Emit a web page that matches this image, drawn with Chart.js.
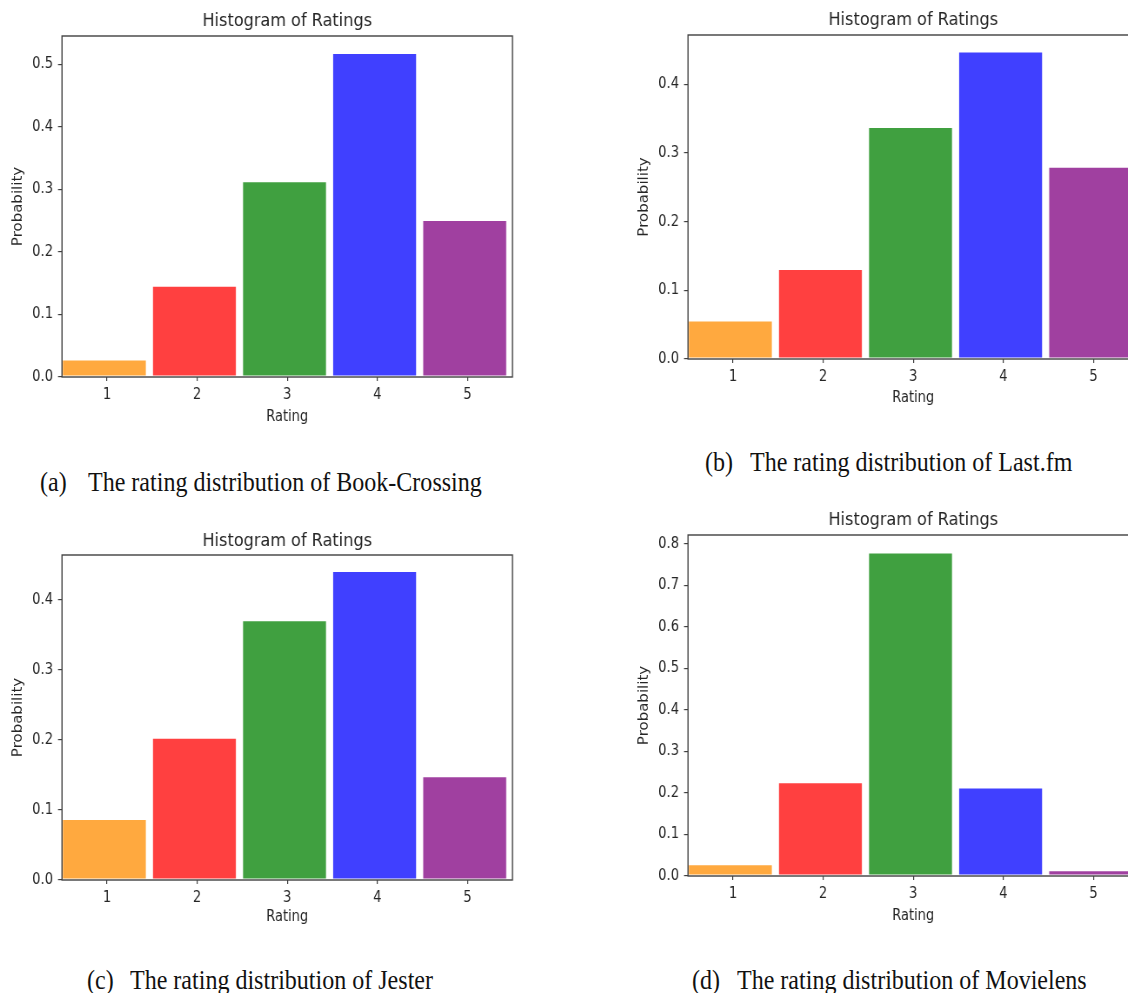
<!DOCTYPE html>
<html>
<head>
<meta charset="utf-8">
<script src="https://cdn.jsdelivr.net/npm/chart.js@4/dist/chart.umd.min.js"></script>
<style>
  html, body { margin: 0; padding: 0; background: #fff; }
  body { width: 1128px; height: 993px; overflow: hidden; position: relative; }
  canvas { position: absolute; transform-origin: 0 0; }
  .cap { position: absolute; font-family: "Liberation Serif", "Times New Roman", serif;
         font-size: 27px; line-height: 28px; color: #111; white-space: pre; transform-origin: 0 50%; }
</style>
</head>
<body>
<script>
// Rating scale shared by all four histograms
const ratings = [1, 2, 3, 4, 5];
const ratingLabels = ['1', '2', '3', '4', '5'];

// Share of ratings at each level, per dataset
const bookCrossing = [0.028, 0.146, 0.313, 0.518, 0.251];
const lastFm       = [0.056, 0.131, 0.338, 0.448, 0.280];
const jester       = [0.087, 0.203, 0.371, 0.441, 0.148];
const movielens    = [0.028, 0.226, 0.779, 0.213, 0.014];

// Upper limit of each probability axis
const yLimits = [0.545, 0.472, 0.464, 0.821];

const chartTitle = 'Histogram of Ratings';
const xAxisTitle = 'Rating';
const yAxisTitle = 'Probability';

const captionTags  = ['(a)', '(b)', '(c)', '(d)'];
const captionTexts = [
  'The rating distribution of Book-Crossing',
  'The rating distribution of Last.fm',
  'The rating distribution of Jester',
  'The rating distribution of Movielens'
];

// One colour per rating bar (75% opaque over white)
const barColors = ['#ffa93f', '#ff4040', '#40a040', '#4040ff', '#a040a0'];

// ---- layout of the 2x2 grid (plot-area edges in page pixels) ----
const panels = [
  { values: bookCrossing, left: 62,  right: 512,  top: 36,  bottom: 377, titleY: 21.5,  xTitleY: 417.5, yTitleX: 18 },
  { values: lastFm,       left: 688, right: 1138, top: 35,  bottom: 359, titleY: 20.5,  xTitleY: 398,   yTitleX: 644 },
  { values: jester,       left: 62,  right: 512,  top: 555, bottom: 880, titleY: 541,   xTitleY: 917,   yTitleX: 18 },
  { values: movielens,    left: 688, right: 1138, top: 535, bottom: 876, titleY: 520.5, xTitleY: 916,   yTitleX: 644 }
];
const captionPos = [
  { tagX: 40,  textX: 88,  y: 482 },
  { tagX: 705, textX: 750, y: 462 },
  { tagX: 87,  textX: 130, y: 980 },
  { tagX: 692, textX: 737, y: 980 }
];

const SX = 0.87;         // the figure is drawn slightly narrower than tall
const CAP_SX = 0.89;     // caption glyph narrowing
const Y_AXIS_W = 62;     // page px left of the plot area
const TITLE_H = 36;      // page px above the plot area
const X_AXIS_H = 60;     // page px below the plot area
const RIGHT_PAD = 12;
const BAR_SHIFT = 0.03;  // bars sit at the left edge of each unit bin
const LINE = '#404040';
const TEXT = '#262626';

Chart.defaults.font.family = '"DejaVu Sans", sans-serif';
Chart.defaults.color = TEXT;
Chart.defaults.animation = false;

// frame around the plot area (all four spines)
const framePlugin = {
  id: 'frame',
  afterDatasetsDraw(chart) {
    const { ctx, chartArea: a } = chart;
    ctx.save();
    ctx.strokeStyle = LINE;
    ctx.lineWidth = 1.4;
    ctx.strokeRect(a.left, a.top, a.right - a.left, a.bottom - a.top);
    ctx.restore();
  }
};

const ratingTicks = s => { s.ticks = ratings.map(v => ({ value: v })); };

function drawPanel(p, yMax) {
  const cx = p.left - Y_AXIS_W;
  const cy = p.top - TITLE_H;
  const yAxisW = Y_AXIS_W / SX;
  const W = Math.round(yAxisW + (p.right - p.left) / SX + RIGHT_PAD);
  const H = TITLE_H + (p.bottom - p.top) + X_AXIS_H;

  const canvas = document.createElement('canvas');
  canvas.width = W; canvas.height = H;
  canvas.style.left = cx + 'px'; canvas.style.top = cy + 'px';
  canvas.style.transform = `scaleX(${SX})`;
  document.body.appendChild(canvas);

  const titleFont = 18.5, axisFont = 15;
  const tPadTop = p.titleY - cy - titleFont * 1.2 / 2;
  const tPadBottom = TITLE_H - titleFont * 1.2 - tPadTop;
  const xTitlePadBottom = (cy + H) - p.xTitleY - axisFont * 1.2 / 2;
  const yTitlePadTop = (p.yTitleX - cx) / SX - axisFont * 1.2 / 2;

  const xGrid = { display: true, offset: false, drawOnChartArea: false, drawTicks: true, tickLength: 4, color: LINE, lineWidth: 1.2 };
  const yGrid = { display: true, offset: false, drawOnChartArea: false, drawTicks: true, tickLength: 4 / SX, color: LINE, lineWidth: 1.2 };

  new Chart(canvas, {
    type: 'bar',
    data: {
      datasets: [{
        data: ratings.map((r, i) => ({ x: r, y: p.values[i] })),
        backgroundColor: barColors,
        borderColor: 'rgba(255,255,255,0.45)',
        borderWidth: 1,
        borderSkipped: false,
        xAxisID: 'xb',
        yAxisID: 'y',
        categoryPercentage: 1.0,
        barPercentage: 0.94
      }]
    },
    options: {
      responsive: false,
      devicePixelRatio: 1,
      layout: { padding: { left: 0, right: RIGHT_PAD, top: 0, bottom: 0 } },
      plugins: {
        legend: { display: false },
        tooltip: { enabled: false },
        title: {
          display: true, text: chartTitle, fullSize: false, color: TEXT,
          font: { size: titleFont, weight: 'normal' },
          padding: { top: tPadTop, bottom: tPadBottom }
        }
      },
      scales: {
        x: {
          type: 'linear', position: 'bottom', min: 0.5, max: 5.5, offset: false,
          afterBuildTicks: ratingTicks,
          afterFit: s => { s.height = X_AXIS_H; },
          ticks: { font: { size: axisFont }, padding: 5.5, maxRotation: 0, autoSkip: false, color: TEXT,
                   callback: v => ratingLabels[ratings.indexOf(v)] },
          grid: xGrid,
          border: { display: false },
          title: { display: true, text: xAxisTitle, color: TEXT, font: { size: axisFont },
                   padding: { top: 0, bottom: xTitlePadBottom } }
        },
        xb: {
          type: 'linear', display: false, position: 'bottom', offset: false,
          grid: { offset: false },
          afterBuildTicks: ratingTicks,
          min: 0.5 + BAR_SHIFT, max: 5.5 + BAR_SHIFT
        },
        y: {
          type: 'linear', position: 'left', min: 0, max: yMax,
          afterFit: s => { s.width = yAxisW; },
          ticks: { stepSize: 0.1, includeBounds: false, font: { size: axisFont }, padding: 5 / SX, color: TEXT,
                   callback: v => Number(v).toFixed(1) },
          grid: yGrid,
          border: { display: false },
          title: { display: true, text: yAxisTitle, color: TEXT, font: { size: axisFont },
                   padding: { top: yTitlePadTop, bottom: 0 } }
        }
      }
    },
    plugins: [framePlugin]
  });
}

panels.forEach((p, i) => drawPanel(p, yLimits[i]));

// sub-figure captions
function addCaption(text, x, y) {
  const el = document.createElement('div');
  el.className = 'cap';
  el.textContent = text;
  el.style.left = x + 'px';
  el.style.top = (y - 14) + 'px';
  el.style.transform = `scaleX(${CAP_SX})`;
  document.body.appendChild(el);
}
captionPos.forEach((c, i) => {
  addCaption(captionTags[i], c.tagX, c.y);
  addCaption(captionTexts[i], c.textX, c.y);
});
</script>
</body>
</html>
